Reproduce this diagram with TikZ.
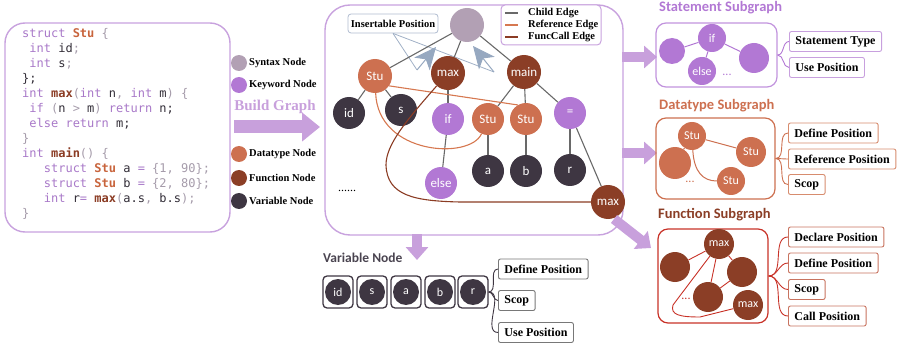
\documentclass[tikz,border=0pt]{standalone}
\usepackage{fontspec}
\setmainfont{Liberation Serif}
\setmonofont{DejaVu Sans Mono}
\newfontfamily\calib{Carlito}
\usetikzlibrary{arrows.meta}
\definecolor{synC}{RGB}{178,160,180}
\definecolor{kwC}{RGB}{178,120,212}
\definecolor{dtC}{RGB}{205,112,80}
\definecolor{fnC}{RGB}{139,62,38}
\definecolor{varC}{RGB}{62,54,66}
\definecolor{boxP}{RGB}{200,162,222}
\definecolor{arrP}{RGB}{200,160,220}
\definecolor{childC}{RGB}{105,105,105}
\definecolor{refC}{RGB}{214,120,80}
\definecolor{callC}{RGB}{139,60,36}
\definecolor{insC}{RGB}{160,176,198}
\definecolor{insF}{RGB}{150,168,192}
\definecolor{insB}{RGB}{176,188,208}
\definecolor{fnBox}{RGB}{200,50,40}
\definecolor{fnLbl}{RGB}{200,115,95}
\definecolor{dtLbl}{RGB}{215,140,110}
\definecolor{stLbl}{RGB}{200,160,222}
\definecolor{varLbl}{RGB}{120,120,120}
\definecolor{codeKw}{RGB}{168,120,200}
\definecolor{codeTy}{RGB}{200,100,60}
\definecolor{codeFn}{RGB}{139,60,36}
\definecolor{codePu}{RGB}{165,155,170}
\definecolor{codeId}{RGB}{50,45,55}
\definecolor{varHead}{RGB}{74,68,80}
\newcommand{\cKw}[1]{\textcolor{codeKw}{#1}}
\newcommand{\cTy}[1]{\textcolor{codeTy}{\textbf{#1}}}
\newcommand{\cFn}[1]{\textcolor{codeFn}{\textbf{#1}}}
\newcommand{\cPu}[1]{\textcolor{codePu}{#1}}
\tikzset{
  nd/.style={circle, minimum size=#1, inner sep=0pt, text=white, font=\calib\fontsize{13}{13}\selectfont},
  nd/.default=32pt,
  sm/.style={circle, minimum size=#1, inner sep=0pt, text=white, font=\calib\fontsize{12}{12}\selectfont},
  sm/.default=28pt,
  child/.style={draw=childC, line width=1.1pt},
  refe/.style={draw=refC, line width=1.1pt},
  calle/.style={draw=callC, line width=1.1pt},
  fatB/.style={draw=arrP, line width=13pt, -{Triangle[length=18pt,width=28pt]}},
  fatS/.style={draw=arrP, line width=10pt, -{Triangle[length=13pt,width=22pt]}},
  lbl/.style={draw=#1, line width=0.9pt, rounded corners=2pt, fill=white, font=\bfseries\fontsize{12}{12}\selectfont, inner xsep=6pt, minimum height=20pt, anchor=west, text=black},
  legT/.style={anchor=west, inner sep=0pt, font=\bfseries\fontsize{10.5}{10.5}\selectfont},
  head/.style={anchor=west, inner sep=0pt, font=\calib\bfseries\fontsize{14.5}{14.5}\selectfont},
  brace/.style={draw=#1, line width=0.9pt},
  insl/.style={draw=insC, line width=0.8pt},
  insa/.style={draw=insF, line width=1pt, -{Stealth[length=22pt,width=20pt,inset=6pt,fill=insF]}},
}
\begin{document}
\begin{tikzpicture}[x=1pt,y=-1pt]
\useasboundingbox (0,0) rectangle (900,350);

% ---------------- code box ----------------
\node[draw=boxP, line width=1.4pt, rounded corners=20pt, minimum width=225pt, minimum height=209pt, inner sep=0pt] (codebox) at (117.5,127.5) {};
\node[anchor=north west, inner sep=0pt, align=left, text=codeId, font=\ttfamily\fontsize{12}{15}\selectfont] (code) at (22,28) {%
\cKw{struct} \cTy{Stu} \cPu{\{}\\
\mbox{}\ \cKw{int} id\cPu{;}\\
\mbox{}\ \cKw{int} s\cPu{;}\\
\};\\
\cKw{int} \cFn{max}\cPu{(}\cKw{int} n\cPu{,} \cKw{int} m\cPu{)} \cPu{\{}\\
\mbox{}\ \cKw{if} \cPu{(}n \cPu{>} m\cPu{)} \cKw{return} n;\\
\mbox{}\ \cKw{else} \cKw{return} m;\\
\cPu{\}}\\
\cKw{int} \cFn{main}\cPu{() \{}\\
\mbox{}\ \ \ \cKw{struct} \cTy{Stu} a \cKw{=} \cPu{\{1, 90\};}\\
\mbox{}\ \ \ \cKw{struct} \cTy{Stu} b \cKw{=} \cPu{\{2, 80\};}\\
\mbox{}\ \ \ \cKw{int} r\cKw{=} \cFn{max}\cPu{(}a.s\cPu{,} b.s\cPu{);}\\
\cPu{\}}};

% ---------------- legend (left) ----------------
\node[circle, fill=synC, minimum size=16pt, inner sep=0pt] (lsyn) at (239,63) {};
\node[legT] (lsynT) at (249,63) {Syntax Node};
\node[circle, fill=kwC, minimum size=16pt, inner sep=0pt] (lkw) at (239,85) {};
\node[legT] (lkwT) at (249,85) {Keyword Node};
\node[circle, fill=dtC, minimum size=16pt, inner sep=0pt] (ldt) at (239,154) {};
\node[legT] (ldtT) at (249,154) {Datatype Node};
\node[circle, fill=fnC, minimum size=16pt, inner sep=0pt] (lfn) at (239,178) {};
\node[legT] (lfnT) at (249,178) {Function Node};
\node[circle, fill=varC, minimum size=16pt, inner sep=0pt] (lvar) at (239,201) {};
\node[legT] (lvarT) at (249,201) {Variable Node};

\node[inner sep=0pt, text=arrP, font=\bfseries\fontsize{15}{15}\selectfont] (bg) at (275,107) {Build Graph};
\coordinate (ba1) at (234,127);
\coordinate (ba2) at (320,127);
\draw[fatB] (ba1) -- (ba2);

% ---------------- main graph box ----------------
\node[draw=boxP, line width=1.4pt, rounded corners=25pt, minimum width=298pt, minimum height=230pt, inner sep=0pt] (mainbox) at (474,120) {};

% edge legend
\node[draw=boxP, line width=1pt, rounded corners=4pt, fill=white, minimum width=100pt, minimum height=40pt, inner sep=0pt] (leg) at (551,25) {};
\draw[child] (505,13) -- (518,13);
\draw[refe] (505,25) -- (518,25);
\draw[calle] (505,37) -- (518,37);
\node[legT] (leg1) at (528,13) {Child Edge};
\node[legT] (leg2) at (528,25) {Reference Edge};
\node[legT] (leg3) at (528,37) {FuncCall Edge};

% insertable position
\node[draw=insB, line width=0.8pt, rounded corners=3pt, fill=white, minimum width=90pt, minimum height=19pt, inner sep=0pt, font=\bfseries\fontsize{10.5}{10.5}\selectfont] (ins) at (393,23.5) {Insertable Position};
\coordinate (t1) at (417,70);
\coordinate (tip1) at (436,47);
\coordinate (t2) at (494,72);
\coordinate (tip2) at (473,46);
\draw[insl] (ins.south) -- (t1);
\draw[insl] (ins.south) -- (t2);
\draw[insa] (t1) -- (tip1);
\draw[insa] (t2) -- (tip2);

% nodes
\node[nd=34pt, fill=synC] (root) at (467,25) {};
\node[nd=34pt, fill=dtC] (Stu) at (375,76) {Stu};
\node[nd=34pt, fill=fnC] (max) at (448,73) {max};
\node[nd=34pt, fill=fnC] (main) at (524,72) {main};
\node[nd, fill=varC] (id) at (349,113) {id};
\node[nd, fill=varC] (s) at (401,110) {s};
\node[nd, fill=kwC] (if) at (448,119) {if};
\node[nd, fill=dtC] (Stu2) at (488,119) {Stu};
\node[nd, fill=dtC] (Stu3) at (526,119) {Stu};
\node[nd, fill=kwC] (eq) at (570,113) {=};
\node[nd, fill=kwC] (else) at (441,183) {else};
\node[nd, fill=varC] (a) at (488,171) {a};
\node[nd, fill=varC] (b) at (526,171) {b};
\node[nd, fill=varC] (r) at (570,170) {r};
\node[nd=34pt, fill=fnC] (max2) at (608,202) {max};
\node[inner sep=0pt, font=\fontsize{12}{12}\selectfont] (dots) at (347,191) {......};

% child edges
\draw[child] (root) -- (Stu);
\draw[child] (root) -- (max);
\draw[child] (root) -- (main);
\draw[child] (Stu) -- (id);
\draw[child] (Stu) -- (s);
\draw[child] (max) -- (if);
\draw[child] (if) -- (else);
\draw[child] (main) -- (Stu2);
\draw[child] (main) -- (Stu3);
\draw[child] (main) -- (eq);
\draw[child] (Stu2) -- (a);
\draw[child] (Stu3) -- (b);
\draw[child] (eq) -- (r);
\draw[child] (eq) -- (max2);
% reference edges
\draw[refe] (Stu.-35) -- (Stu3.120);
\draw[refe] (Stu) .. controls (378,155) and (470,160) .. (Stu2);
% funccall edge
\draw[calle] (max) .. controls (405,122) and (386,145) .. (386,165) .. controls (387,196) and (415,201) .. (460,202) -- (max2);

% ---------------- arrows to subgraphs ----------------
\coordinate (aS1) at (622,57);  \coordinate (aS2) at (657,57);
\coordinate (aD1) at (622,153); \coordinate (aD2) at (657,153);
\coordinate (aF1) at (614,219); \coordinate (aF2) at (651,248);
\coordinate (aV1) at (417,234); \coordinate (aV2) at (417,260);
\draw[fatS] (aS1) -- (aS2);
\draw[fatS] (aD1) -- (aD2);
\draw[fatS] (aF1) -- (aF2);
\draw[fatS] (aV1) -- (aV2);

% ---------------- statement subgraph ----------------
\node[head, text=kwC] (stH) at (659,8) {Statement Subgraph};
\node[draw=kwC!80, line width=1.2pt, rounded corners=10pt, minimum width=121pt, minimum height=64pt, inner sep=0pt] (stbox) at (716.5,55) {};
\node[sm=26pt, fill=kwC] (sL) at (672,51) {};
\node[sm=28pt, fill=kwC] (sif) at (712,38) {if};
\node[sm=30pt, fill=kwC] (sR) at (754,58) {};
\node[sm=28pt, fill=kwC] (selse) at (702,71) {else};
\node[inner sep=0pt, text=kwC, font=\calib\fontsize{12}{12}\selectfont] (sdots) at (727,75) {...};
\draw[draw=kwC, line width=1pt] (sL) -- (sif);
\draw[draw=kwC, line width=1pt] (sif) -- (sR);
\draw[draw=kwC, line width=1pt] (sif) -- (selse);
\node[lbl=stLbl] (st1) at (789,41.5) {Statement Type};
\node[lbl=stLbl] (st2) at (789,67.5) {Use Position};
\draw[brace=kwC] (stbox.east) to[out=0,in=180] (st1.west);
\draw[brace=kwC] (stbox.east) to[out=0,in=180] (st2.west);

% ---------------- datatype subgraph ----------------
\node[head, text=dtC] (dtH) at (659,106) {Datatype Subgraph};
\node[draw=dtC, line width=1.2pt, rounded corners=10pt, minimum width=119pt, minimum height=81pt, inner sep=0pt] (dtbox) at (715.5,158.5) {};
\node[sm=28pt, fill=dtC] (dS1) at (692,136) {Stu};
\node[sm=30pt, fill=dtC] (dS2) at (751,152) {Stu};
\node[sm=32pt, fill=dtC] (dB) at (675,163) {};
\node[sm=28pt, fill=dtC] (dS3) at (731,181) {Stu};
\node[inner sep=0pt, text=dtC, font=\calib\fontsize{12}{12}\selectfont] (ddots) at (690,182) {...};
\draw[draw=dtC, line width=1pt] (dS1) -- (dS2);
\draw[draw=dtC, line width=1pt] (dS1) -- (dB);
\draw[draw=dtC, line width=1pt] (dS1) .. controls (694,172) and (703,181) .. (dS3);
\node[lbl=dtLbl] (dt1) at (788,133) {Define Position};
\node[lbl=dtLbl] (dt2) at (788,159) {Reference Position};
\node[lbl=dtLbl] (dt3) at (788,184.5) {Scop};
\draw[brace=dtC] (dtbox.east) to[out=0,in=180] (dt1.west);
\draw[brace=dtC] (dtbox.east) to[out=0,in=180] (dt2.west);
\draw[brace=dtC] (dtbox.east) to[out=0,in=180] (dt3.west);

% ---------------- function subgraph ----------------
\node[head, text=fnC] (fnH) at (658,215) {Function Subgraph};
\node[draw=fnBox, line width=1.2pt, rounded corners=10pt, minimum width=110pt, minimum height=94pt, inner sep=0pt] (fnbox) at (713,276) {};
\node[sm=30pt, fill=fnC] (fmax) at (719,244) {max};
\node[sm=30pt, fill=fnC] (fL) at (675,267) {};
\node[sm=30pt, fill=fnC] (fR) at (742,272) {};
\node[sm=30pt, fill=fnC] (fM) at (708,297) {};
\node[sm=30pt, fill=fnC] (fmax2) at (748,305) {max};
\node[inner sep=0pt, text=fnBox, font=\calib\fontsize{12}{12}\selectfont] (fdots) at (686,299) {...};
\draw[draw=fnBox, line width=0.9pt] (fmax) -- (fL);
\draw[draw=fnBox, line width=0.9pt] (fmax) -- (fR);
\draw[draw=fnBox, line width=0.9pt] (fmax) -- (fM);
\draw[draw=fnBox, line width=0.9pt] (fM) -- (fR);
\draw[draw=fnBox, line width=0.9pt] (fmax) -- (673,305) .. controls (670,315) and (680,317) .. (700,317) -- (fmax2);
\node[lbl=fnLbl] (fn1) at (788,237) {Declare Position};
\node[lbl=fnLbl] (fn2) at (788,263) {Define Position};
\node[lbl=fnLbl] (fn3) at (788,289.5) {Scop};
\node[lbl=fnLbl] (fn4) at (788,316) {Call Position};
\draw[brace=fnBox] (fnbox.east) to[out=0,in=180] (fn1.west);
\draw[brace=fnBox] (fnbox.east) to[out=0,in=180] (fn2.west);
\draw[brace=fnBox] (fnbox.east) to[out=0,in=180] (fn3.west);
\draw[brace=fnBox] (fnbox.east) to[out=0,in=180] (fn4.west);

% ---------------- variable node ----------------
\node[head, text=varHead, font=\calib\bfseries\fontsize{13.5}{13.5}\selectfont] (vH) at (323,258) {Variable Node};
\foreach \n/\t/\x in {v1/id/338, v2/s/372, v3/a/406, v4/b/440, v5/r/473}{
  \node[draw=varC, line width=1.3pt, rounded corners=4pt, minimum width=30pt, minimum height=32pt, inner sep=0pt] (\n box) at (\x,292) {};
  \node[sm=26pt, fill=varC] (\n) at (\x,292) {\t};
}
\node[lbl=varLbl] (vl1) at (498,269) {Define Position};
\node[lbl=varLbl] (vl2) at (498,300.5) {Scop};
\node[lbl=varLbl] (vl3) at (498,332.5) {Use Position};
\draw[brace=varC] (v5box.east) to[out=0,in=180] (vl1.west);
\draw[brace=varC] (v5box.east) to[out=0,in=180] (vl2.west);
\draw[brace=varC] (v5box.east) to[out=0,in=180] (vl3.west);
\end{tikzpicture}
\end{document}
